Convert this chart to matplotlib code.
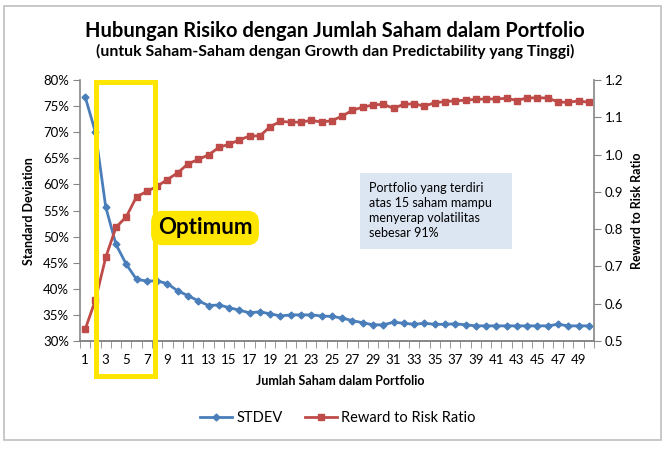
import numpy as np
import matplotlib.pyplot as plt
from matplotlib.patches import Rectangle

plt.rcParams['font.family'] = ['Lato', 'DejaVu Sans']

# data
jumlah_saham = np.arange(1, 51)
stdev = [76.8, 70.0, 55.7, 48.5, 44.7, 41.8, 41.5, 41.5, 41.0, 39.6,
         38.7, 37.7, 36.8, 36.9, 36.4, 35.9, 35.4, 35.6, 35.2, 34.8,
         35.0, 35.0, 35.0, 34.8, 34.7, 34.4, 33.9, 33.5, 33.1, 33.1,
         33.6, 33.4, 33.2, 33.4, 33.2, 33.2, 33.3, 33.1, 32.9, 32.9,
         32.9, 32.9, 32.9, 32.9, 32.9, 32.9, 33.2, 32.9, 32.9, 32.9]
rrr = [0.531, 0.610, 0.724, 0.805, 0.833, 0.887, 0.901, 0.915, 0.933, 0.951,
       0.975, 0.987, 0.999, 1.019, 1.028, 1.039, 1.050, 1.050, 1.075, 1.089,
       1.087, 1.087, 1.092, 1.087, 1.091, 1.103, 1.119, 1.127, 1.133, 1.135,
       1.124, 1.135, 1.136, 1.130, 1.139, 1.142, 1.144, 1.146, 1.148, 1.149,
       1.149, 1.151, 1.145, 1.152, 1.152, 1.152, 1.141, 1.140, 1.144, 1.140]
yticks_kiri = np.arange(30, 81, 5)
yticks_kanan = np.arange(0.5, 1.21, 0.1)
xtick_labels = np.arange(1, 50, 2)

W, H = 670, 449
def fx(x): return x / W
def fy(y): return 1 - y / H

abu = '#868686'
biru = '#4A7EBB'
merah = '#BE4B48'
kuning = '#FFE600'

fig = plt.figure(figsize=(W / 100, H / 100), dpi=100)
ax = fig.add_axes([fx(80), fy(341), fx(594) - fx(80), fy(80) - fy(341)])
ax2 = ax.twinx()

l1, = ax.plot(jumlah_saham, stdev, color=biru, lw=2, marker='D', ms=3.5, label='STDEV')
l2, = ax2.plot(jumlah_saham, rrr, color=merah, lw=2, marker='s', ms=4.2,
               label='Reward to Risk Ratio')

ax.set_xlim(0.5, 50.5)
ax.set_ylim(30, 80)
ax.set_yticks(yticks_kiri)
ax.set_yticklabels([f'{v}%' for v in yticks_kiri])
ax2.set_ylim(0.5, 1.2)
ax2.set_yticks(yticks_kanan)
ax2.set_yticklabels([f'{v:.1f}' for v in yticks_kanan])
ax.set_xticks(xtick_labels)
ax.set_xticks(np.arange(0.5, 50.6, 1), minor=True)

for a in (ax, ax2):
    a.spines['top'].set_visible(False)
    for s in ('left', 'right', 'bottom'):
        a.spines[s].set_color(abu)
        a.spines[s].set_linewidth(1.2)
ax2.spines['left'].set_visible(False)
ax.spines['right'].set_visible(False)
ax.tick_params(axis='y', direction='out', length=5, color=abu, labelsize=9.5, pad=3)
ax2.tick_params(axis='y', direction='out', length=5, color=abu, labelsize=9.5, pad=3)
ax.tick_params(axis='x', which='major', length=0, labelsize=9.5, pad=9)
ax.tick_params(axis='x', which='minor', direction='out', length=5, color=abu)

# judul & label sumbu
fig.text(fx(335), fy(37), 'Hubungan Risiko dengan Jumlah Saham dalam Portfolio',
         ha='center', va='baseline', fontsize=14.5, weight='bold')
fig.text(fx(335), fy(56), '(untuk Saham-Saham dengan Growth dan Predictability yang Tinggi)',
         ha='center', va='baseline', fontsize=11.3, weight='bold')
fig.text(fx(29), fy(211), 'Standard Deviation', rotation=90, ha='center', va='center',
         fontsize=9, weight='bold')
fig.text(fx(637), fy(211), 'Reward to Risk Ratio', rotation=90, ha='center', va='center',
         fontsize=9, weight='bold')
fig.text(fx(340), fy(381), 'Jumlah Saham dalam Portfolio', ha='center', va='center',
         fontsize=9, weight='bold')

# kotak optimum
fig.patches.append(Rectangle((fx(95.5), fy(375.5)), fx(154.5) - fx(95.5), fy(81.5) - fy(375.5),
                             transform=fig.transFigure, fill=False, ec=kuning, lw=3.6, zorder=5))
fig.text(fx(205), fy(228), 'Optimum', ha='center', va='center', fontsize=16, weight='bold',
         zorder=6, bbox=dict(boxstyle='round,pad=0.3,rounding_size=0.5', fc=kuning, ec='none'))

# keterangan
fig.patches.append(Rectangle((fx(360), fy(249)), fx(512) - fx(360), fy(173) - fy(249),
                             transform=fig.transFigure, fc='#DCE6F2', ec='none', zorder=5))
fig.text(fx(369), fy(182), 'Portfolio yang terdiri\natas 15 saham mampu\nmenyerap volatilitas\nsebesar 91%',
         ha='left', va='top', fontsize=9, linespacing=1.3, zorder=6)

# bingkai luar
fig.patches.append(Rectangle((fx(4), fy(440)), fx(661) - fx(4), fy(6) - fy(440),
                             transform=fig.transFigure, fill=False, ec='#BFBFBF', lw=1.2))

fig.legend(handles=[l1, l2], loc='center', bbox_to_anchor=(fx(338), fy(418)), ncol=2,
           frameon=False, fontsize=10.5, handlelength=2.2, columnspacing=1.5, handletextpad=0.3)

fig.savefig('out.png', dpi=100)
